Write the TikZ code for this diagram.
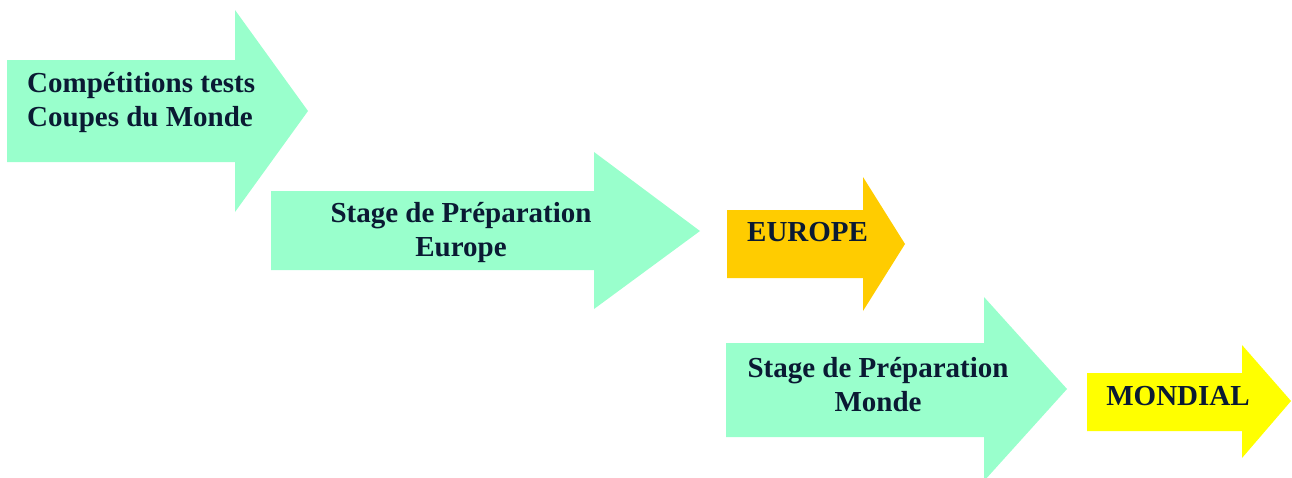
\documentclass[tikz,border=0pt]{standalone}
\usepackage{fontspec}
\setmainfont{Liberation Serif}
\definecolor{aqua}{HTML}{99FFCC}
\definecolor{amber}{HTML}{FFCC00}
\definecolor{lemon}{HTML}{FFFF00}
\definecolor{ink}{HTML}{0A1A33}

\begin{document}
\begin{tikzpicture}[x=1pt, y=-1pt, label/.style={text=ink, font=\fontsize{29}{34}\selectfont\bfseries, inner sep=0pt}]
            \useasboundingbox (0, 0) rectangle (1292, 477);
            \fill[aqua] (7, 60) -- (235, 60) -- (235, 10) -- (308, 111) -- (235, 212) -- (235, 162) -- (7, 162) -- cycle;
            \fill[aqua] (271, 191) -- (594, 191) -- (594, 152) -- (700, 231) -- (594, 309) -- (594, 270) -- (271, 270) -- cycle;
            \fill[amber] (727, 210) -- (863, 210) -- (863, 177) -- (905, 244) -- (863, 311) -- (863, 278) -- (727, 278) -- cycle;
            \fill[aqua] (726, 343) -- (984, 343) -- (984, 297) -- (1067, 389) -- (984, 481) -- (984, 437) -- (726, 437) -- cycle;
            \fill[lemon] (1087, 373) -- (1242, 373) -- (1242, 345) -- (1291, 401) -- (1242, 458) -- (1242, 431) -- (1087, 431) -- cycle;
            \node[label, align=left, anchor=west] (tests) at (27, 103) {Compétitions tests\\Coupes du Monde};
            \node[label, align=center] (prepeu) at (461, 233) {Stage de Préparation\\Europe};
            \node[label, anchor=west] (europe) at (747, 232) {EUROPE};
            \node[label, align=center] (prepmo) at (878, 385) {Stage de Préparation\\Monde};
            \node[label] (mondial) at (1178, 396) {MONDIAL};
        \end{tikzpicture}
\end{document}
